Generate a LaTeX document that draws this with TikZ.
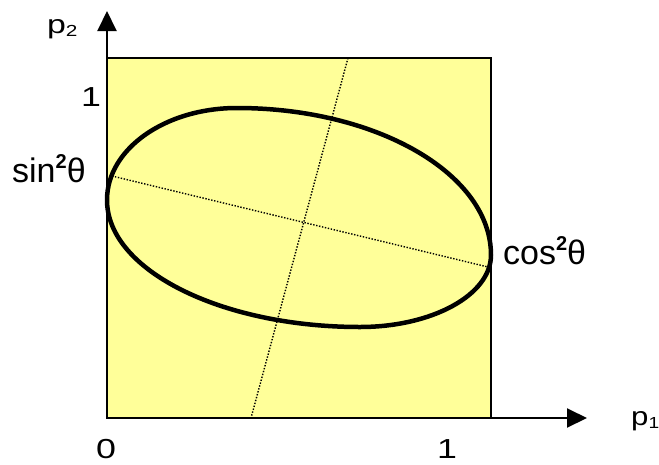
\documentclass[tikz,border=0pt]{standalone}
\usepackage{fontspec}
\setmainfont{Liberation Sans}
\usetikzlibrary{arrows.meta}
\definecolor{paleyellow}{RGB}{255,255,153}
\newcommand{\supsq}{\raisebox{14pt}{\fontsize{20}{20}\selectfont\bfseries 2}}
\newcommand{\subidx}[1]{\raisebox{-3pt}{\fontsize{16}{16}\selectfont #1}}
\newcommand{\wide}[1]{\scalebox{1.3}[1]{#1}}
\tikzset{
  axis/.style={line width=2, -{Triangle[length=20,width=19]}},
  axislabel/.style={font=\fontsize{26}{30}\selectfont, inner sep=0},
  ticklabel/.style={font=\fontsize{27.5}{30}\selectfont, inner sep=0, anchor=base},
  anglelabel/.style={font=\fontsize{34}{38}\selectfont, inner sep=0, anchor=base west},
  principal/.style={line width=1.4, dash pattern={on 1.4 off 1.6}},
}
\begin{document}
\begin{tikzpicture}[x=1pt,y=1pt,yscale=-1]
\useasboundingbox (0,0) rectangle (659,464);
\coordinate (O) at (107,418);
\coordinate (ytip) at (107,11);
\coordinate (xtip) at (587,418);
% extreme points of the curve
\coordinate (eleft) at (107,200);
\coordinate (etop) at (237,108);
\coordinate (eright) at (491,255);
\coordinate (ebot) at (360,327);
% axes of the curve
\coordinate (sinpt) at (112,176);
\coordinate (cospt) at (488,267);
\coordinate (minortop) at (348,58);
\coordinate (minorbot) at (251,418);
\filldraw [fill=paleyellow, draw=black, line width=1.5] (107,58) rectangle (491,418);
\draw [principal] (sinpt) -- (cospt);
\draw [principal] (minortop) -- (minorbot);
\draw [line width=4.5] (eleft) .. controls (107,149) and (165,108) .. (etop)
  .. controls (377,108) and (491,174) .. (eright)
  .. controls (491,295) and (432,327) .. (ebot)
  .. controls (221,327) and (107,270) .. (eleft) -- cycle;
\draw [axis] (O) -- (ytip);
\draw [axis] (O) -- (xtip);
\node [axislabel, anchor=base west] (p2) at (47,33) {\wide{p\subidx{2}}};
\node [axislabel, anchor=base west] (p1) at (631,425) {\scalebox{1.2}[1]{p\subidx{1}}};
\node [ticklabel] (one2) at (91,106) {\wide{1}};
\node [ticklabel] (zero) at (106,458) {\wide{0}};
\node [ticklabel] (one1) at (447,458) {\wide{1}};
\node [anglelabel] (sinlab) at (12,182) {sin\supsq θ};
\node [anglelabel] (coslab) at (503,264) {cos\supsq θ};
\end{tikzpicture}
\end{document}
